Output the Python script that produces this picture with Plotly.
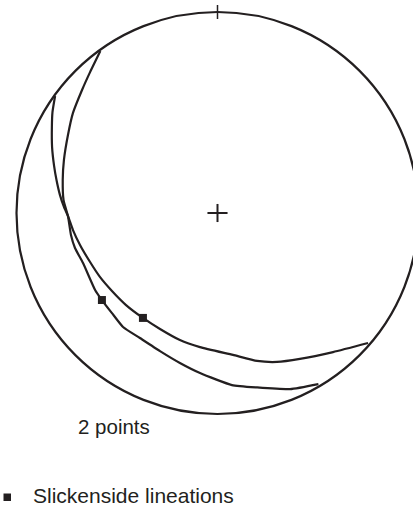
import plotly.graph_objects as go

# Equal-area net, lower hemisphere; coordinates are on the unit primitive circle
# (x = east, y = north).

# Great circle 1 (enters at NW, leaves at SE)
gc1_x = [-0.808, -0.821, -0.824, -0.823, -0.813, -0.801, -0.784, -0.764, -0.744,
         -0.719, -0.684, -0.634, -0.585, -0.525, -0.455, -0.371, -0.286, -0.187,
         -0.087, 0.077, 0.197, 0.296, 0.410, 0.575, 0.749]
gc1_y = [0.582, 0.502, 0.428, 0.328, 0.234, 0.164, 0.090, 0.030, -0.015,
         -0.085, -0.159, -0.244, -0.318, -0.388, -0.458, -0.522, -0.577, -0.632,
         -0.667, -0.706, -0.736, -0.741, -0.726, -0.692, -0.647]

# Great circle 2 (enters at NNW, leaves at SSE)
gc2_x = [-0.583, -0.634, -0.674, -0.719, -0.744, -0.764, -0.770, -0.766, -0.744,
         -0.729, -0.709, -0.669, -0.609, -0.575, -0.525, -0.470, -0.386, -0.286,
         -0.187, -0.087, 0.072, 0.197, 0.361, 0.502]
gc2_y = [0.806, 0.701, 0.612, 0.498, 0.388, 0.264, 0.164, 0.065, -0.015,
         -0.109, -0.174, -0.249, -0.383, -0.433, -0.498, -0.567, -0.622, -0.687,
         -0.746, -0.796, -0.856, -0.868, -0.876, -0.851]

# Slickenside lineations
lin_x = [-0.575, -0.371]
lin_y = [-0.433, -0.522]

count_label = "2 points"
legend_label = "Slickenside lineations"

INK = "#231f20"
FONT = "Liberation Sans, Arial, Helvetica, sans-serif"

W, H = 413, 507
CX, CY, R = 217.5, 213.0, 201.0   # net centre and radius on the page (px)


def paper_x(px):
    return px / W


def paper_y(py):
    return 1 - py / H


fig = go.Figure()

for gx, gy in ((gc1_x, gc1_y), (gc2_x, gc2_y)):
    fig.add_trace(go.Scatter(x=gx, y=gy, mode="lines",
                             line=dict(color=INK, width=2.2, shape="spline",
                                       smoothing=0.5),
                             hoverinfo="skip", showlegend=False))

fig.add_trace(go.Scatter(x=lin_x, y=lin_y, mode="markers",
                         marker=dict(symbol="square", size=8, color=INK,
                                     line=dict(width=0)),
                         name=legend_label, showlegend=False))

shapes = [
    # primitive circle
    dict(type="circle", xref="x", yref="y", x0=-1, y0=-1, x1=1, y1=1,
         line=dict(color=INK, width=2.2)),
    # north tick
    dict(type="line", xref="x", yref="y", x0=0, x1=0, y0=0.965, y1=1.035,
         line=dict(color=INK, width=1.5)),
    # centre cross
    dict(type="line", xref="x", yref="y", x0=-0.05, x1=0.05, y0=0, y1=0,
         line=dict(color=INK, width=2)),
    dict(type="line", xref="x", yref="y", x0=0, x1=0, y0=-0.045, y1=0.045,
         line=dict(color=INK, width=2)),
    # legend key
    dict(type="rect", xref="paper", yref="paper",
         x0=paper_x(3.5), x1=paper_x(11), y0=paper_y(501), y1=paper_y(493.5),
         fillcolor=INK, line=dict(width=0)),
]

annotations = [
    dict(text=count_label, xref="paper", yref="paper",
         x=paper_x(76), y=paper_y(426), xanchor="left", yanchor="middle",
         showarrow=False, font=dict(family=FONT, size=20.5, color=INK)),
    dict(text=legend_label, xref="paper", yref="paper",
         x=paper_x(31), y=0, xanchor="left", yanchor="bottom", yshift=-2,
         showarrow=False, font=dict(family=FONT, size=21, color=INK)),
]

fig.update_layout(
    width=W, height=H,
    margin=dict(l=0, r=0, t=0, b=0),
    paper_bgcolor="white", plot_bgcolor="white",
    showlegend=False,
    shapes=shapes, annotations=annotations,
    xaxis=dict(range=[(0 - CX) / R, (W - CX) / R], visible=False,
               fixedrange=True),
    yaxis=dict(range=[(CY - H) / R, CY / R], visible=False,
               fixedrange=True),
)

fig.write_html("out.html")
